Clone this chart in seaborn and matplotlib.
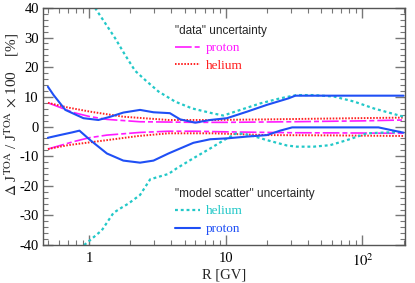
import numpy as np
import pandas as pd
import matplotlib
matplotlib.use("Agg")
import matplotlib.pyplot as plt
import seaborn as sns
from matplotlib.ticker import MultipleLocator, LogLocator, NullFormatter

# "data" uncertainty, proton (magenta dashed)
r_dp_up = [0.5, 0.77, 1.0, 1.35, 2.36, 3.81, 6.0, 10.0, 30.0, 100.0, 200.0]
v_dp_up = [8.0, 4.7, 3.4, 2.4, 1.6, 1.5, 1.4, 1.4, 1.6, 1.9, 2.2]
r_dp_lo = [0.5, 0.77, 1.0, 1.35, 2.36, 3.81, 6.0, 10.0, 30.0, 100.0, 200.0]
v_dp_lo = [-7.6, -5.1, -3.8, -2.9, -2.0, -1.6, -1.6, -1.8, -2.1, -2.2, -2.3]

# "data" uncertainty, helium (red dotted)
r_dh_up = [0.5, 0.7, 1.02, 1.78, 3.81, 8.0, 20.0, 60.0, 200.0]
v_dh_up = [8.0, 6.4, 5.0, 3.3, 2.2, 2.2, 2.4, 2.7, 3.0]
r_dh_lo = [0.5, 0.7, 1.35, 2.3, 3.81, 8.0, 20.0, 60.0, 200.0]
v_dh_lo = [-7.6, -6.3, -4.6, -3.2, -2.3, -2.3, -2.9, -3.0, -3.2]

# "model scatter" uncertainty, helium (cyan dashed)
r_mh_up = [1.106, 1.31, 1.55, 1.83, 2.17, 2.6, 3.22, 4.26, 5.67, 7.9, 9.6,
           12.8, 17.9, 25.0, 33.0, 44.0, 62.0, 87.0, 121.0, 200.0]
v_mh_up = [40.0, 34.9, 29.8, 24.2, 18.8, 15.5, 11.8, 8.4, 6.1, 4.5, 3.7,
           5.6, 7.8, 9.5, 10.6, 10.6, 10.1, 8.4, 6.1, 3.3]
r_mh_lo = [0.92, 1.02, 1.24, 1.51, 1.74, 1.94, 2.36, 2.8, 3.81, 4.38, 5.8,
           7.7, 10.2, 12.1, 15.1, 20.0, 28.0, 33.0, 44.0, 58.0, 77.0, 108.0, 135.0, 200.0]
v_mh_lo = [-40.0, -38.3, -35.0, -29.1, -27.3, -26.0, -23.1, -17.8, -16.0, -14.1, -10.7,
           -7.4, -4.0, -2.2, -2.9, -4.6, -6.4, -6.8, -6.8, -6.3, -4.6, -2.3, -2.1, -1.8]

# "model scatter" uncertainty, proton (blue solid)
r_mp_up = [0.5, 0.55, 0.67, 0.91, 1.17, 1.43, 1.78, 2.36, 2.96, 3.9, 4.64,
           5.98, 7.7, 10.2, 14.3, 20.0, 28.8, 32.3, 200.0]
v_mp_up = [13.4, 10.6, 5.6, 2.8, 2.2, 3.3, 4.7, 5.6, 4.8, 4.5, 2.4,
           1.3, 2.2, 2.8, 5.0, 7.3, 9.5, 10.4, 10.4]
r_mp_lo = [0.5, 0.61, 0.75, 0.85, 1.02, 1.35, 1.78, 2.36, 2.96, 3.81, 4.38,
           5.8, 7.7, 10.2, 14.3, 20.0, 25.0, 30.6, 131.0, 200.0]
v_mp_lo = [-3.8, -2.9, -2.0, -1.4, -4.6, -9.1, -11.5, -12.2, -11.5, -9.1, -7.9,
           -5.5, -4.3, -4.0, -3.4, -2.9, -1.4, -0.3, -0.3, -2.1]

c_mag, c_red, c_cyan, c_blue = "#ff1aff", "#ff2020", "#22c8c8", "#1f4ff5"

sns.set_style("ticks")
plt.rcParams["font.family"] = ["Liberation Serif", "DejaVu Serif"]
plt.rcParams["mathtext.fontset"] = "stix"
plt.rcParams["axes.unicode_minus"] = False

fig, ax = plt.subplots(figsize=(4.15, 2.83), dpi=100)
fig.subplots_adjust(left=0.1036, right=0.976, bottom=0.134, top=0.972)
ax.set_xscale("log")

curves = [
    (r_dp_up, v_dp_up, c_mag, 1.2, (0, (10, 1.8, 3, 1.8))),
    (r_dp_lo, v_dp_lo, c_mag, 1.2, (0, (10, 1.8, 3, 1.8))),
    (r_dh_up, v_dh_up, c_red, 1.4, (0, (0.8, 0.8))),
    (r_dh_lo, v_dh_lo, c_red, 1.4, (0, (0.8, 0.8))),
    (r_mh_up, v_mh_up, c_cyan, 1.6, (0, (1.3, 1.3))),
    (r_mh_lo, v_mh_lo, c_cyan, 1.6, (0, (1.3, 1.3))),
    (r_mp_up, v_mp_up, c_blue, 1.5, "-"),
    (r_mp_lo, v_mp_lo, c_blue, 1.5, "-"),
]
for r, v, col, lw, ls in curves:
    df = pd.DataFrame({"R": r, "v": v})
    sns.lineplot(data=df, x="R", y="v", ax=ax, color=col, lw=lw, linestyle=ls,
                 sort=False, estimator=None, legend=False)

ax.set_xlim(0.46, 205)
ax.set_ylim(-40, 40)
ax.yaxis.set_major_locator(MultipleLocator(10))
ax.yaxis.set_minor_locator(MultipleLocator(2))
ax.set_xticks([1, 10, 100])
ax.set_xticklabels(["1", "10", "$10^2$"])
ax.xaxis.set_minor_locator(LogLocator(base=10, subs=np.arange(2, 10)))
ax.xaxis.set_minor_formatter(NullFormatter())
ax.tick_params(which="both", direction="in", top=True, right=True,
               colors="#777777", labelcolor="black", labelsize=10.5, pad=3)
ax.tick_params(axis="x", which="major", pad=5)
ax.tick_params(which="major", length=7, width=1)
ax.tick_params(which="minor", length=3.5, width=0.8)
for s in ax.spines.values():
    s.set_color("#555555")
    s.set_linewidth(1)

ax.set_xlabel("R [GV]", fontsize=10.5, labelpad=0)
ax.set_ylabel(r"$\Delta$ J$^{\rm TOA}$ / J$^{\rm TOA}$ $\times$ 100    [%]", fontsize=11)
ax.yaxis.set_label_coords(-0.062, 0.553)

lines = ax.lines
title_font = {"family": "Liberation Sans", "size": 8.5}
leg1 = ax.legend([lines[0], lines[2]], ["proton", "helium"], title='"data" uncertainty',
                 loc="upper left", bbox_to_anchor=(0.365, 0.93), frameon=False,
                 prop={"size": 9.5}, title_fontproperties=title_font,
                 labelcolor=[c_mag, c_red], alignment="left", handlelength=1.9,
                 handletextpad=0.4, borderpad=0, borderaxespad=0, labelspacing=0.42)
ax.add_artist(leg1)
ax.legend([lines[4], lines[6]], ["helium", "proton"], title='"model scatter" uncertainty',
          loc="upper left", bbox_to_anchor=(0.365, 0.242), frameon=False,
          prop={"size": 9.5}, title_fontproperties=title_font,
          labelcolor=[c_cyan, c_blue], alignment="left", handlelength=1.9,
          handletextpad=0.4, borderpad=0, borderaxespad=0, labelspacing=0.42)

fig.savefig("out.png", dpi=100)
